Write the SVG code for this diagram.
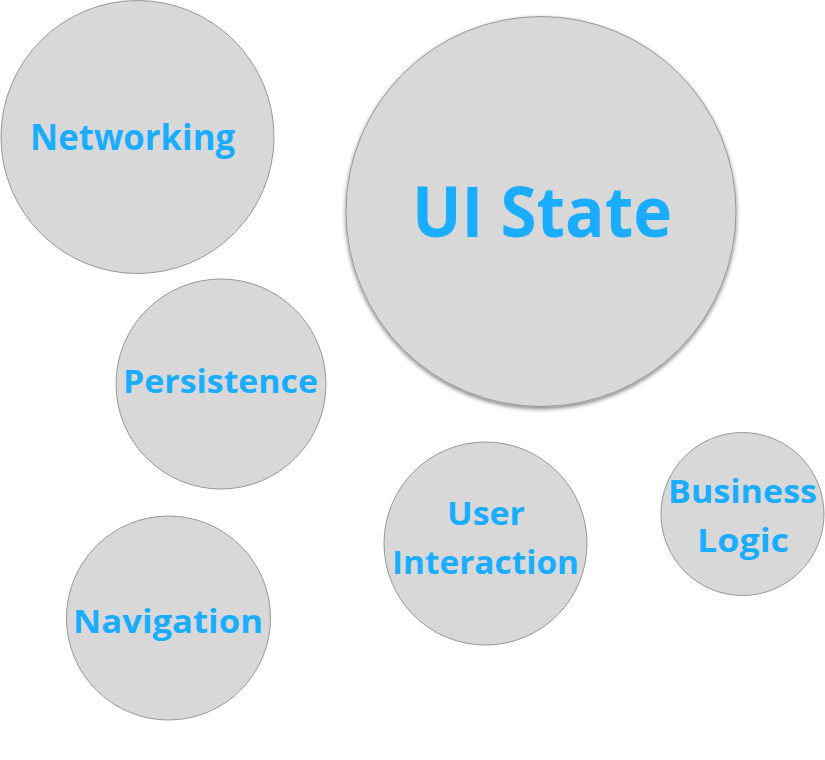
<svg xmlns="http://www.w3.org/2000/svg" width="825" height="760" viewBox="0 0 825 760">
<defs>
<filter id="sh" x="-10%" y="-10%" width="120%" height="125%">
<feGaussianBlur in="SourceAlpha" stdDeviation="2"/>
<feOffset dx="0" dy="2" result="b"/>
<feComponentTransfer><feFuncA type="linear" slope="0.5"/></feComponentTransfer>
<feMerge><feMergeNode/><feMergeNode in="SourceGraphic"/></feMerge>
</filter>
</defs>
<style>
circle{fill:#d8d8d8;stroke:#979797;stroke-width:1}
text{font-family:"Open Sans",Lato,sans-serif;font-weight:bold;fill:#1aadff;text-anchor:middle;font-variant-ligatures:none}
</style>
<rect width="825" height="760" fill="#fff"/>
<g id="connectors"/>
<g id="networking"><circle cx="137.5" cy="137" r="136.5"/><text x="132.5" y="150" font-size="35" textLength="205" lengthAdjust="spacingAndGlyphs">Networking</text></g>
<g id="ui-state"><circle cx="541" cy="211.5" r="195" filter="url(#sh)"/><text x="542" y="237" font-size="69" textLength="260" lengthAdjust="spacingAndGlyphs">UI State</text></g>
<g id="persistence"><circle cx="221" cy="384" r="105"/><text x="220.5" y="393" font-size="33" textLength="195" lengthAdjust="spacingAndGlyphs">Persistence</text></g>
<g id="navigation"><circle cx="168.5" cy="618" r="102"/><text x="168" y="633" font-size="33" textLength="190" lengthAdjust="spacingAndGlyphs">Navigation</text></g>
<g id="user-interaction"><circle cx="485.5" cy="543.5" r="101.5"/><text x="486" y="525" font-size="33" textLength="78" lengthAdjust="spacingAndGlyphs">User</text><text x="485.5" y="574" font-size="33" textLength="187" lengthAdjust="spacingAndGlyphs">Interaction</text></g>
<g id="business-logic"><circle cx="742.5" cy="514" r="81.5"/><text x="742.5" y="503" font-size="33" textLength="149" lengthAdjust="spacingAndGlyphs">Business</text><text x="743" y="552" font-size="33" textLength="92" lengthAdjust="spacingAndGlyphs">Logic</text></g>
</svg>
